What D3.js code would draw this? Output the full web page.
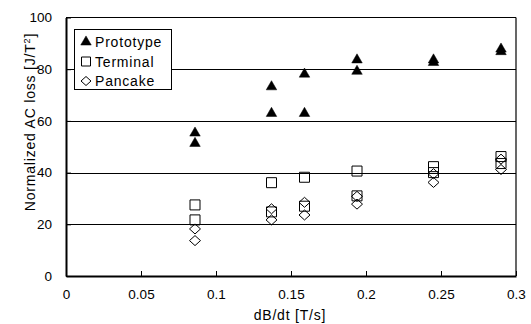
<!DOCTYPE html>
<html>
<head>
<meta charset="utf-8">
<script src="https://cdn.jsdelivr.net/npm/d3@7"></script>
<style>
  html, body { margin: 0; padding: 0; background: #fff; }
  svg { display: block; }
  text { font-family: "Liberation Sans", Arial, sans-serif; fill: #000; }
  .wide { letter-spacing: 0.8px; }
</style>
</head>
<body>
<svg id="chart" width="531" height="324"></svg>
<script>
// Field sweep rates [T/s] and normalized AC loss [J/T^2] for each coil type
const prototypeX = [0.086, 0.086, 0.137, 0.137, 0.159, 0.159, 0.194, 0.194, 0.245, 0.245, 0.29, 0.29];
const prototypeY = [55.3, 51.3, 73.2, 62.9, 78.1, 62.9, 83.6, 79.2, 83.6, 82.6, 87.8, 86.8];
const terminalX  = [0.086, 0.086, 0.137, 0.137, 0.159, 0.159, 0.194, 0.194, 0.245, 0.245, 0.29, 0.29];
const terminalY  = [27.5, 21.7, 36.1, 24.8, 38.2, 27.0, 40.6, 31.0, 42.3, 40.0, 46.2, 43.5];
const pancakeX   = [0.086, 0.086, 0.137, 0.137, 0.159, 0.159, 0.194, 0.194, 0.245, 0.245, 0.29, 0.29];
const pancakeY   = [18.2, 13.7, 26.0, 21.7, 28.5, 23.6, 30.8, 27.8, 39.6, 36.2, 45.2, 41.2];

const xTicks = [0, 0.05, 0.1, 0.15, 0.2, 0.25, 0.3];
const xTickLabels = ["0", "0.05", "0.1", "0.15", "0.2", "0.25", "0.3"];
const yTicks = [0, 20, 40, 60, 80, 100];
const yTickLabels = ["0", "20", "40", "60", "80", "100"];
const seriesNames = ["Prototype", "Terminal", "Pancake"];

const svg = d3.select("#chart");
const m = { left: 66, right: 516, top: 17.5, bottom: 276 };

const x = d3.scaleLinear().domain([0, 0.3]).range([m.left, m.right]);
const y = d3.scaleLinear().domain([0, 100]).range([m.bottom, m.top]);

// horizontal grid lines
svg.append("g").selectAll("line")
  .data(yTicks.filter(v => v > 0 && v < 100))
  .join("line")
  .attr("x1", m.left).attr("x2", m.right)
  .attr("y1", d => Math.round(y(d)) + 0.5).attr("y2", d => Math.round(y(d)) + 0.5)
  .attr("stroke", "#000").attr("stroke-width", 1);

// frame: thin top/right, heavier left/bottom
svg.append("line").attr("x1", m.left).attr("x2", m.right).attr("y1", m.top).attr("y2", m.top)
  .attr("stroke", "#000").attr("stroke-width", 1.2);
svg.append("line").attr("x1", m.right).attr("x2", m.right).attr("y1", m.top).attr("y2", m.bottom)
  .attr("stroke", "#000").attr("stroke-width", 1.2);

// x axis
const xAxis = d3.axisBottom(x).tickValues(xTicks)
  .tickFormat((d, i) => xTickLabels[i]).tickSizeInner(-5).tickSizeOuter(0).tickPadding(13);
const gx = svg.append("g").attr("transform", `translate(0,${m.bottom})`).call(xAxis);
gx.select(".domain").attr("stroke-width", 2);
gx.selectAll(".tick line").attr("stroke-width", 1);
gx.selectAll("text").attr("font-size", 13.5).style("font-family", "Liberation Sans, Arial, sans-serif");

// y axis
const yAxis = d3.axisLeft(y).tickValues(yTicks)
  .tickFormat((d, i) => yTickLabels[i]).tickSizeInner(-5).tickSizeOuter(0).tickPadding(14);
const gy = svg.append("g").attr("transform", `translate(${m.left},0)`).call(yAxis);
gy.select(".domain").attr("stroke-width", 2);
gy.selectAll("text").attr("font-size", 13.5).style("font-family", "Liberation Sans, Arial, sans-serif");

// axis titles
svg.append("text").attr("class", "wide").attr("x", 290).attr("y", 320).attr("text-anchor", "middle")
  .attr("font-size", 14).text("dB/dt [T/s]");
const yt = svg.append("text").attr("class", "wide")
  .attr("transform", "translate(35,122) rotate(-90)")
  .attr("text-anchor", "middle").attr("font-size", 14);
yt.append("tspan").text("Normalized AC loss [J/T");
yt.append("tspan").attr("dy", -5).attr("font-size", 9).text("2");
yt.append("tspan").attr("dy", 5).text("]");

// marker symbols
const tri = d3.symbol().type(d3.symbolTriangle).size(48)();
const sq = "M-5,-5H5V5H-5Z";
const dia = "M0,-5L5.5,0L0,5L-5.5,0Z";

function plot(xs, ys, path, filled) {
  svg.append("g").selectAll("path")
    .data(xs.map((v, i) => [v, ys[i]]))
    .join("path")
    .attr("d", path)
    .attr("transform", d => `translate(${x(d[0])},${y(d[1])})`)
    .attr("fill", filled ? "#000" : "none")
    .attr("stroke", "#000")
    .attr("stroke-width", filled ? 0.5 : 1);
}
plot(pancakeX, pancakeY, dia, false);
plot(terminalX, terminalY, sq, false);
plot(prototypeX, prototypeY, tri, true);

// legend
const lg = svg.append("g");
lg.append("rect").attr("x", 74.5).attr("y", 29.5).attr("width", 97).attr("height", 60)
  .attr("fill", "#fff").attr("stroke", "#000").attr("stroke-width", 1);
const legendPaths = [tri, "M-4.5,-4.5H4.5V4.5H-4.5Z", "M0,-4.5L5,0L0,4.5L-5,0Z"];
seriesNames.forEach((name, i) => {
  const cy = 42 + i * 19.5;
  lg.append("path").attr("d", legendPaths[i])
    .attr("transform", `translate(86,${cy})`)
    .attr("fill", i === 0 ? "#000" : "none").attr("stroke", "#000").attr("stroke-width", i === 0 ? 0.5 : 1);
  lg.append("text").attr("class", "wide").attr("x", 95).attr("y", cy + 5).attr("font-size", 14).text(name);
});
</script>
</body>
</html>
